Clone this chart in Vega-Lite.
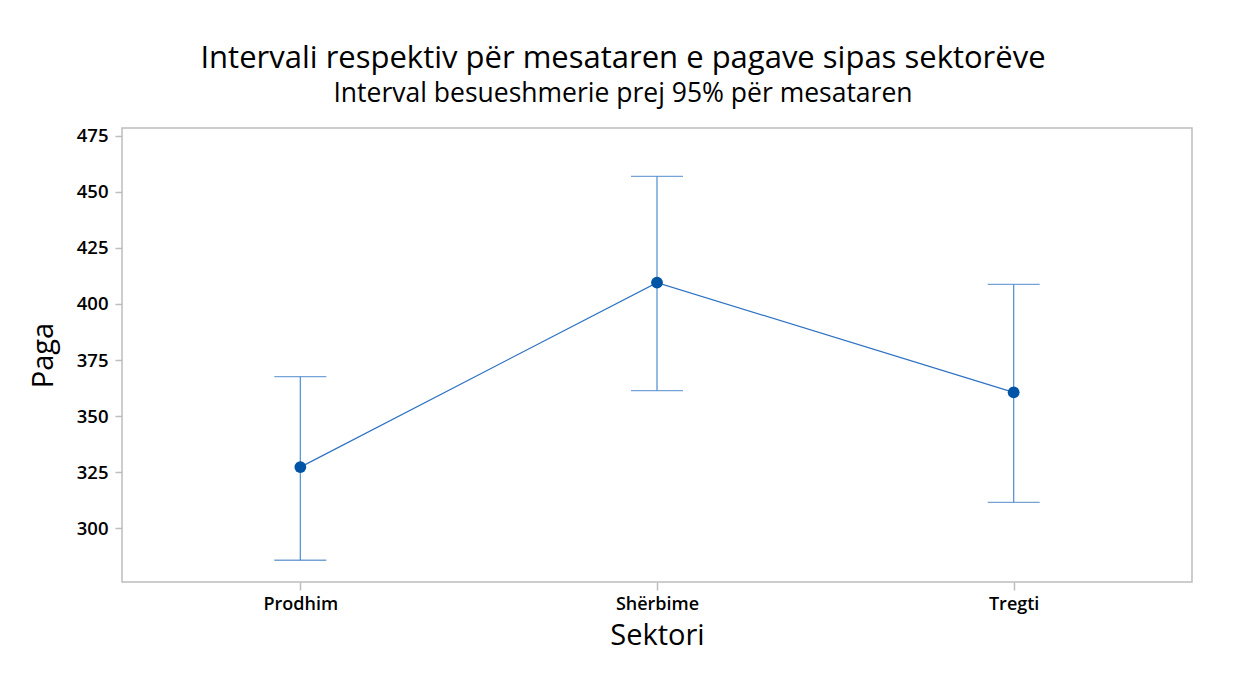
{
  "$schema": "https://vega.github.io/schema/vega-lite/v6.json",
  "autosize": "none",
  "width": 1070,
  "height": 454,
  "padding": {"left": 122, "top": 128, "right": 47, "bottom": 91},
  "background": "white",
  "title": {
    "text": "Intervali respektiv për mesataren e pagave sipas sektorëve",
    "subtitle": "Interval besueshmerie prej 95% për mesataren",
    "anchor": "middle",
    "dx": -34,
    "font": "Open Sans",
    "fontSize": 31,
    "fontWeight": "normal",
    "color": "black",
    "subtitleFont": "Open Sans",
    "subtitleFontSize": 26.5,
    "subtitleColor": "black",
    "subtitlePadding": 6,
    "offset": 18
  },
  "data": {
    "values": [
      {"Sektori": "Prodhim", "mean": 327.3, "lower": 285.8, "upper": 367.6},
      {"Sektori": "Shërbime", "mean": 409.5, "lower": 361.4, "upper": 456.8},
      {"Sektori": "Tregti", "mean": 360.6, "lower": 311.6, "upper": 408.7}
    ]
  },
  "encoding": {
    "x": {
      "field": "Sektori",
      "type": "nominal",
      "sort": null,
      "scale": {"type": "point", "padding": 0.5},
      "axis": {
        "title": "Sektori",
        "labelAngle": 0,
        "domain": false,
        "grid": false,
        "tickColor": "#bdbdbd",
        "tickSize": 8,
        "tickWidth": 1.5,
        "labelFont": "Open Sans",
        "labelFontSize": 18,
        "labelFontWeight": 600,
        "labelColor": "black",
        "labelPadding": 5,
        "titleFont": "Open Sans",
        "titleFontSize": 29,
        "titleFontWeight": "normal",
        "titleColor": "black",
        "titlePadding": 8
      }
    }
  },
  "layer": [
    {
      "mark": {"type": "rule", "color": "#5b95d5", "strokeWidth": 1.3},
      "encoding": {
        "y": {
          "field": "lower",
          "type": "quantitative",
          "scale": {"domain": [276.1, 478.4], "nice": false, "zero": false},
          "axis": {
            "title": "Paga",
            "values": [300, 325, 350, 375, 400, 425, 450, 475],
            "domain": false,
            "grid": false,
            "tickColor": "#bdbdbd",
            "tickSize": 7,
            "tickWidth": 1.5,
            "labelFont": "Open Sans",
            "labelFontSize": 18.5,
            "labelFontWeight": 600,
            "labelColor": "black",
            "labelPadding": 7,
            "titleFont": "Open Sans",
            "titleFontSize": 29,
            "titleFontWeight": "normal",
            "titleColor": "black",
            "titlePadding": 18
          }
        },
        "y2": {"field": "upper"}
      }
    },
    {
      "mark": {"type": "tick", "color": "#3a7cc8", "size": 52, "thickness": 1.3, "orient": "horizontal"},
      "encoding": {"y": {"field": "lower", "type": "quantitative"}}
    },
    {
      "mark": {"type": "tick", "color": "#3a7cc8", "size": 52, "thickness": 1.3, "orient": "horizontal"},
      "encoding": {"y": {"field": "upper", "type": "quantitative"}}
    },
    {
      "mark": {"type": "line", "color": "#2e72c2", "strokeWidth": 1.2},
      "encoding": {"y": {"field": "mean", "type": "quantitative"}}
    },
    {
      "mark": {"type": "point", "filled": true, "shape": "circle", "size": 140, "color": "#0054a6", "opacity": 1},
      "encoding": {"y": {"field": "mean", "type": "quantitative"}}
    }
  ],
  "config": {
    "view": {"stroke": "#bdbdbd", "strokeWidth": 1.5}
  }
}
